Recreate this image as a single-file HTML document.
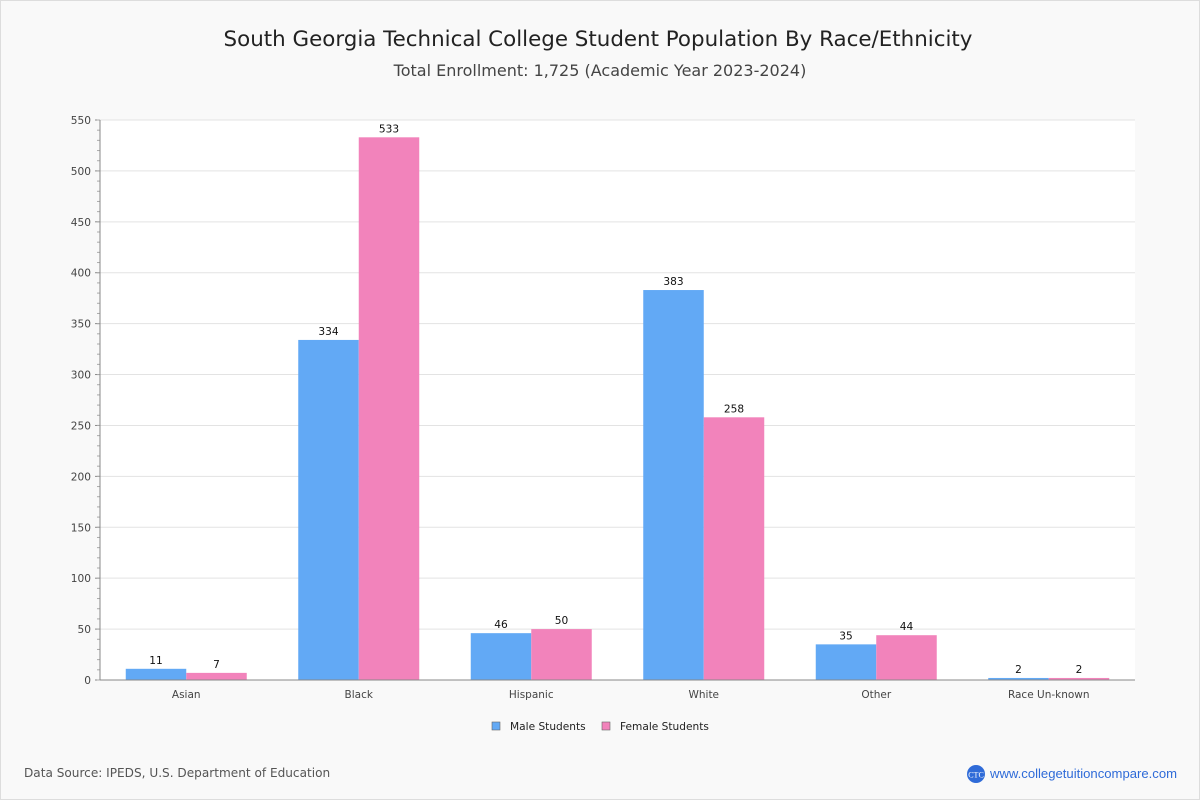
<!DOCTYPE html>
<html><head><meta charset="utf-8"><style>
body{margin:0;width:1200px;height:800px;background:#fff;font-family:"DejaVu Sans","Liberation Sans",sans-serif;}
#wrap{position:absolute;left:0;top:0;width:1198px;height:798px;background:#f9f9f9;border:1px solid #ddd;}
</style></head><body>
<div id="wrap">
<svg id="chart" width="1200" height="800" style="position:absolute;left:-1px;top:-1px">
<text x="598" y="46" text-anchor="middle" font-size="21.4" fill="#222">South Georgia Technical College Student Population By Race/Ethnicity</text>
<text x="600" y="76" text-anchor="middle" font-size="16" fill="#444">Total Enrollment: 1,725 (Academic Year 2023-2024)</text>
<rect x="100" y="120" width="1035" height="560" fill="#fff"/>
<g id="grid"></g><g id="bars"></g><g id="axes"></g>
<g>
<rect x="492" y="722" width="8" height="8" fill="#62a9f5" stroke="#666" stroke-width="0.6"/>
<text x="510" y="730" font-size="10.6" fill="#222">Male Students</text>
<rect x="602" y="722" width="8" height="8" fill="#f283bb" stroke="#666" stroke-width="0.6"/>
<text x="620" y="730" font-size="10.6" fill="#222">Female Students</text>
</g>
<text x="24" y="777" font-size="12.1" fill="#555">Data Source: IPEDS, U.S. Department of Education</text>
<circle cx="976" cy="774" r="9" fill="#2f6bd8"/>
<text x="976" y="777.5" text-anchor="middle" font-size="8" fill="#fff" font-family="Liberation Serif,serif">CTC</text>
<text x="990" y="778" font-size="13.1" fill="#2f6bd8" font-family="Liberation Sans,sans-serif">www.collegetuitioncompare.com</text>
</svg></div>
<script>
const categories=["Asian","Black","Hispanic","White","Other","Race Un-known"];
const maleValues=[11,334,46,383,35,2];
const femaleValues=[7,533,50,258,44,2];
const yTicks=[0,50,100,150,200,250,300,350,400,450,500,550];
const NS="http://www.w3.org/2000/svg";
const X0=100,X1=1135,Y0=680,Y1=120,YMAX=550;
const y=v=>Y0-(v/YMAX)*(Y0-Y1);
const bandW=(X1-X0)/categories.length;
const xc=i=>X0+bandW*(i+0.5);
function mk(t,a,p){const e=document.createElementNS(NS,t);for(const k in a)e.setAttribute(k,a[k]);p.appendChild(e);return e;}
const grid=document.getElementById('grid'),bars=document.getElementById('bars'),axes=document.getElementById('axes');
yTicks.forEach(v=>{
 const g=mk('line',{x1:X0,x2:X1,y1:y(v),y2:y(v),stroke:'#e3e3e3'},grid);
 
 
 const t=mk('text',{x:X0-9,y:y(v)+4,'text-anchor':'end','font-size':10.6,fill:'#444'},axes);
 t.textContent=v;
 
 
 mk('line',{x1:X0-5,x2:X0,y1:y(v),y2:y(v),stroke:'#888'},axes);
});
for(let v=0;v<=YMAX;v+=10){mk('line',{x1:X0-3,x2:X0,y1:y(v),y2:y(v),stroke:'#aaa'},axes);}
mk('line',{x1:X0,x2:X0,y1:Y1,y2:Y0,stroke:'#888'},axes);
mk('line',{x1:X0,x2:X1,y1:Y0,y2:Y0,stroke:'#888'},axes);
const bw=60.5;
categories.forEach((c,i)=>{
 [[maleValues[i],'#62a9f5',-bw,'bar-male'],[femaleValues[i],'#f283bb',0,'bar-female']].forEach(([v,col,off,nm])=>{
  const r=mk('rect',{x:xc(i)+off,y:y(v),width:bw,height:Y0-y(v),fill:col},bars);
  
  
  const t=mk('text',{x:xc(i)+off+bw/2,y:y(v)-5,'text-anchor':'middle','font-size':10.6,fill:'#111'},bars);
  t.textContent=v;
  
  
 });
 const l=mk('text',{x:xc(i),y:698,'text-anchor':'middle','font-size':10.5,fill:'#444'},axes);
 l.textContent=c;
 
 
});
</script>
</body></html>
